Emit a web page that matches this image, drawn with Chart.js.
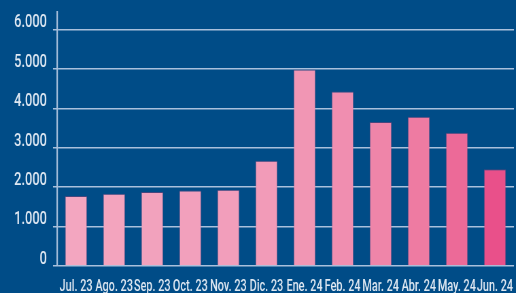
<!DOCTYPE html>
<html>
<head>
<meta charset="utf-8">
<script src="https://cdn.jsdelivr.net/npm/chart.js@4"></script>
<style>
  html, body { margin: 0; padding: 0; background: #004c87; overflow: hidden; }
  #wrap { width: 516px; height: 293px; overflow: hidden; }
  /* fuente condensada: se comprime el lienzo en horizontal */
  #chart { width: 759px; height: 293px; transform: scaleX(0.6798); transform-origin: 0 0; }
</style>
</head>
<body>
<div id="wrap"><canvas id="chart" width="759" height="293"></canvas></div>
<script>
// Data
const months = ['Jul. 23', 'Ago. 23', 'Sep. 23', 'Oct. 23', 'Nov. 23', 'Dic. 23',
  'Ene. 24', 'Feb. 24', 'Mar. 24', 'Abr. 24', 'May. 24', 'Jun. 24'];
const values = [1780, 1835, 1880, 1920, 1935, 2670, 4990, 4430, 3655, 3790, 3385, 2460];
const yTicks = [0, 1000, 2000, 3000, 4000, 5000, 6000];

// Colores de barras (claro -> oscuro)
const barColors = ['#f3a6c0', '#f3a4be', '#f2a2bd', '#f2a0bc', '#f29ebb', '#f29bb8',
  '#f196b4', '#f08eb0', '#ef85a9', '#ee7ba2', '#ec6a98', '#e9508a'];

const gridColor = '#a9c0dc';
const textColor = '#dfe8f2';
const sx = 0.6798; // factor de compresión horizontal

const fmt = (v) => String(v).replace(/\B(?=(\d{3})+(?!\d))/g, '.');

const ctx = document.getElementById('chart').getContext('2d');
new Chart(ctx, {
  type: 'bar',
  data: {
    labels: months,
    datasets: [{
      data: values,
      backgroundColor: barColors,
      borderColor: 'rgba(200, 60, 110, 0.35)',
      borderWidth: 1,
      borderSkipped: 'bottom',
      barPercentage: 0.585,
      categoryPercentage: 1
    }]
  },
  options: {
    responsive: false,
    devicePixelRatio: 1,
    animation: false,
    layout: { padding: { top: 12, right: 2 / sx, left: 0, bottom: 0 } },
    plugins: {
      legend: { display: false },
      tooltip: { enabled: false }
    },
    scales: {
      x: {
        grid: { display: false },
        border: { display: false },
        ticks: {
          color: textColor,
          font: { family: 'Roboto', size: 16, weight: 500 },
          padding: 3,
          maxRotation: 0,
          autoSkip: false
        },
        afterFit: (scale) => {
          scale.height = 27;
          scale.paddingLeft = 0;
          scale.paddingRight = 0;
        }
      },
      y: {
        min: 0,
        max: 6450,
        afterBuildTicks: (scale) => {
          scale.ticks = yTicks.map(v => ({ value: v }));
        },
        grid: {
          color: gridColor,
          lineWidth: 1.5,
          tickLength: 4 / sx,
          drawTicks: true
        },
        border: { display: true, color: gridColor, width: 1.5 / sx },
        ticks: {
          color: textColor,
          font: { family: 'Roboto', size: 19, weight: 500 },
          padding: 6 / sx,
          labelOffset: -7,
          callback: (v) => fmt(v)
        },
        afterFit: (scale) => {
          scale.width = 57 / sx;
          scale.paddingTop = 0;
          scale.paddingBottom = 0;
        }
      }
    }
  }
});
</script>
</body>
</html>
